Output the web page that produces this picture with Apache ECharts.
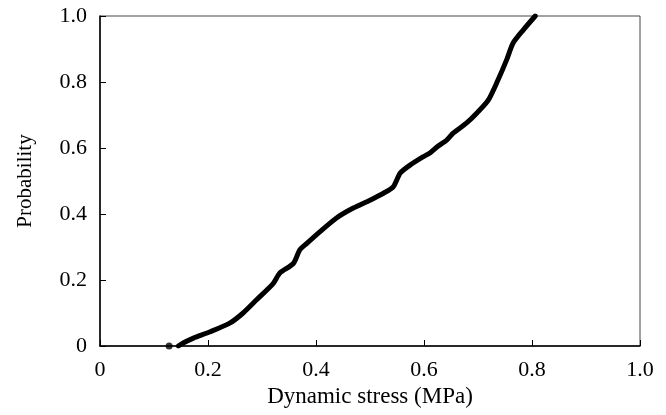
<!DOCTYPE html>
<html>
<head>
<meta charset="utf-8">
<script src="https://cdn.jsdelivr.net/npm/echarts@6/dist/echarts.min.js"></script>
<style>html,body{margin:0;padding:0;background:#fff}#c{width:666px;height:415px}</style>
</head>
<body>
<div id="c"></div>
<script>
const xTicks = [0, 0.2, 0.4, 0.6, 0.8, 1.0];
const yTicks = [0, 0.2, 0.4, 0.6, 0.8, 1.0];
const stress = [0.145, 0.154, 0.173, 0.204, 0.241, 0.265, 0.290, 0.321, 0.333, 0.358, 0.370, 0.383, 0.407, 0.438, 0.469, 0.500, 0.525, 0.543, 0.556, 0.574, 0.598, 0.611, 0.624, 0.642, 0.654, 0.679, 0.698, 0.719, 0.737, 0.753, 0.765, 0.784, 0.806];
const probability = [0, 0.009, 0.024, 0.043, 0.070, 0.100, 0.140, 0.190, 0.221, 0.250, 0.291, 0.311, 0.346, 0.388, 0.418, 0.442, 0.463, 0.482, 0.524, 0.548, 0.573, 0.585, 0.603, 0.624, 0.645, 0.676, 0.706, 0.745, 0.806, 0.867, 0.918, 0.958, 1.0];
const isolatedStress = [0.128];
const isolatedProb = [0];

const font = 'Liberation Serif, Times New Roman, serif';
const fmt = v => (v === 0 ? '0' : v.toFixed(1));
const chart = echarts.init(document.getElementById('c'), null, {renderer: 'canvas'});
chart.setOption({
  animation: false,
  backgroundColor: '#fff',
  grid: {left: 100, right: 26, top: 16, bottom: 69, show: true, borderColor: '#444', borderWidth: 1},
  xAxis: {
    type: 'value', min: 0, max: 1, interval: 0.2,
    name: 'Dynamic stress (MPa)', nameLocation: 'middle', nameGap: 35,
    nameTextStyle: {fontFamily: font, fontSize: 23, color: '#000'},
    axisLine: {show: true, lineStyle: {color: '#000', width: 1.5}},
    axisTick: {show: true, inside: true, length: 6, lineStyle: {color: '#000', width: 1}},
    splitLine: {show: false},
    axisLabel: {fontFamily: font, fontSize: 22, color: '#000', margin: 13, formatter: fmt}
  },
  yAxis: {
    type: 'value', min: 0, max: 1, interval: 0.2,
    name: 'Probability', nameLocation: 'middle', nameGap: 64,
    nameTextStyle: {fontFamily: font, fontSize: 21, color: '#000'},
    axisLine: {show: true, lineStyle: {color: '#000', width: 1.5}},
    axisTick: {show: true, inside: true, length: 6, lineStyle: {color: '#000', width: 1}},
    splitLine: {show: false},
    axisLabel: {fontFamily: font, fontSize: 22, color: '#000', margin: 13, formatter: fmt}
  },
  series: [
    {
      type: 'line',
      data: stress.map((x, i) => [x, probability[i]]),
      showSymbol: false,
      smooth: 0.25,
      lineStyle: {color: '#000', width: 5, cap: 'round', join: 'round'}
    },
    {
      type: 'scatter',
      data: isolatedStress.map((x, i) => [x, isolatedProb[i]]),
      symbolSize: 7,
      itemStyle: {color: '#000'}
    }
  ]
});
</script>
</body>
</html>
